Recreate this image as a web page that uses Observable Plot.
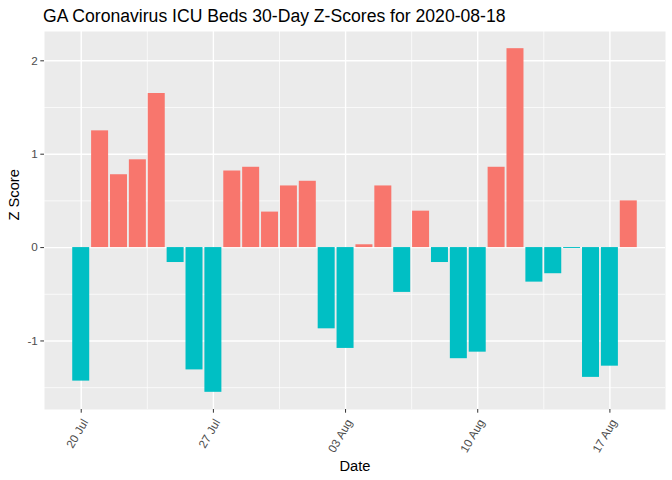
<!DOCTYPE html>
<html><head><meta charset="utf-8">
<script src="https://cdn.jsdelivr.net/npm/d3@7"></script>
<script src="https://cdn.jsdelivr.net/npm/@observablehq/plot@0.6"></script>
<style>
body{margin:0;background:#fff;font-family:"Liberation Sans",Arial,sans-serif;}
#title{height:31px;position:relative;}
#title span{position:absolute;left:43px;top:6px;font-size:17.6px;color:#000;white-space:nowrap;}
svg{overflow:visible;}
</style></head><body>
<div id="title"><span>GA Coronavirus ICU Beds 30-Day Z-Scores for 2020-08-18</span></div>
<div id="chart"></div>
<script>
const dates = ["2020-07-20","2020-07-21","2020-07-22","2020-07-23","2020-07-24","2020-07-25","2020-07-26","2020-07-27","2020-07-28","2020-07-29","2020-07-30","2020-07-31","2020-08-01","2020-08-02","2020-08-03","2020-08-04","2020-08-05","2020-08-06","2020-08-07","2020-08-08","2020-08-09","2020-08-10","2020-08-11","2020-08-12","2020-08-13","2020-08-14","2020-08-15","2020-08-16","2020-08-17","2020-08-18"];
const zScores = [-1.43,1.25,0.78,0.94,1.65,-0.16,-1.31,-1.55,0.82,0.86,0.38,0.66,0.71,-0.87,-1.08,0.03,0.66,-0.48,0.39,-0.16,-1.19,-1.12,0.86,2.13,-0.37,-0.28,-0.01,-1.39,-1.27,0.50];
const xTickDates = ["2020-07-20","2020-07-27","2020-08-03","2020-08-10","2020-08-17"];
const xMinorDates = ["2020-07-23T12:00Z","2020-07-30T12:00Z","2020-08-06T12:00Z","2020-08-13T12:00Z"];
const yTicks = [-1,0,1,2];
const yMinor = [-1.5,-0.5,0.5,1.5];
const posColor = "#F8766D", negColor = "#00BFC4";

const DAY = 86400000;
const data = dates.map((d,i)=>({date:new Date(d+"T00:00Z"), z:zScores[i]}));
const tMin = d3.min(data,d=>+d.date) - 0.45*DAY, tMax = d3.max(data,d=>+d.date) + 0.45*DAY;
const tExp = 0.05*(tMax-tMin);
const zMin = Math.min(0,d3.min(zScores)), zMax = Math.max(0,d3.max(zScores));
const zExp = 0.05*(zMax-zMin);

const chart = Plot.plot({
  width: 672, height: 449,
  marginLeft: 44, marginRight: 7, marginTop: 0, marginBottom: 71,
  style: {fontFamily: '"Liberation Sans", Arial, sans-serif', background: "#fff"},
  x: {type: "utc", domain: [new Date(tMin - tExp), new Date(tMax + tExp)]},
  y: {domain: [zMin - zExp, zMax + zExp]},
  color: {domain: ["neg","pos"], range: [negColor, posColor]},
  marks: [
    Plot.frame({fill: "#EBEBEB", stroke: null}),
    Plot.ruleY(yMinor, {stroke: "#fff", strokeWidth: 0.7}),
    Plot.ruleX(xMinorDates.map(d=>new Date(d)), {stroke: "#fff", strokeWidth: 0.7}),
    Plot.ruleY(yTicks, {stroke: "#fff", strokeWidth: 1.4}),
    Plot.ruleX(xTickDates.map(d=>new Date(d+"T00:00Z")), {stroke: "#fff", strokeWidth: 1.4}),
    Plot.rectY(data, {
      x1: d => new Date(+d.date - 0.45*DAY),
      x2: d => new Date(+d.date + 0.45*DAY),
      y1: 0, y2: "z",
      fill: d => d.z >= 0 ? "pos" : "neg"
    }),
    Plot.axisY(yTicks, {tickSize: 3.7, tickPadding: 3, fontSize: 11.7, fill: "#4D4D4D", stroke: "#333", label: null, tickFormat: d => String(d)}),
    Plot.axisX(xTickDates.map(d=>new Date(d+"T00:00Z")), {tickSize: 3.7, tickPadding: 3, fontSize: 11.7, fill: "#4D4D4D", stroke: "#333", tickRotate: -60, tickFormat: d3.utcFormat("%d %b"), label: null, textStroke: null}),
    Plot.text(["Date"], {frameAnchor: "bottom", dy: 57, fontSize: 14.7, fill: "#000", lineAnchor: "middle"}),
    Plot.text(["Z Score"], {frameAnchor: "left", dx: -30, rotate: -90, fontSize: 14.7, fill: "#000", lineAnchor: "middle"})
  ]
});
// nudge rotated x tick labels to match ggplot's hjust/vjust placement
chart.querySelectorAll('g[aria-label="x-axis tick label"] text').forEach(t => {
  const tr = t.getAttribute("transform") || "";
  t.setAttribute("transform", tr.replace(/translate\(([^,]+),([^)]+)\)/, (m,a,b)=>`translate(${+a+4},${+b+4})`));
});
document.getElementById("chart").appendChild(chart);
</script>
</body></html>
